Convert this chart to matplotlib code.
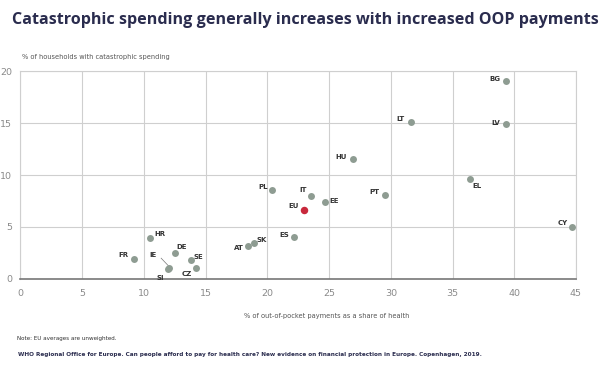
import matplotlib.pyplot as plt

# country codes and values
countries = ['FR', 'HR', 'DE', 'IE', 'SI', 'SE', 'CZ', 'AT', 'SK', 'ES', 'PL', 'IT',
             'EE', 'HU', 'PT', 'LT', 'BG', 'LV', 'EL', 'CY']
oop = [9.2, 10.5, 12.5, 12.05, 11.95, 13.8, 14.2, 18.4, 18.9, 22.2, 20.4, 23.5,
       24.7, 26.9, 29.5, 31.6, 39.3, 39.3, 36.4, 44.7]
cat = [1.9, 3.9, 2.5, 1.1, 1.0, 1.8, 1.1, 3.2, 3.5, 4.0, 8.6, 8.0,
       7.4, 11.5, 8.1, 15.1, 19.0, 14.9, 9.6, 5.0]
eu_oop = 23.0
eu_cat = 6.6

xticks = [0, 5, 10, 15, 20, 25, 30, 35, 40, 45]
yticks = [0, 5, 10, 15, 20]

# label offsets in points
offsets = {
    'FR': (-4, 3, 'right'), 'HR': (3, 3, 'left'), 'DE': (1, 4, 'left'),
    'IE': (-9, 9, 'right'), 'SI': (-3, -7, 'right'), 'SE': (2, 2, 'left'),
    'CZ': (-3, -5, 'right'), 'AT': (-3, -2, 'right'), 'SK': (2, 2, 'left'),
    'ES': (-4, 2, 'right'), 'PL': (-3, 2, 'right'), 'IT': (-3, 4, 'right'),
    'EE': (3, 1, 'left'), 'HU': (-4, 2, 'right'), 'PT': (-4, 2, 'right'),
    'LT': (-4, 2, 'right'), 'BG': (-4, 2, 'right'), 'LV': (-4, 1, 'right'),
    'EL': (2, -5, 'left'), 'CY': (-3, 3, 'right'),
}

navy = '#2a2c4e'
grey_pt = '#8e9c92'

fig = plt.figure(figsize=(6, 3.7), dpi=100)
ax = fig.add_axes([0.034, 0.246, 0.926, 0.562])

ax.scatter(oop, cat, s=25, color=grey_pt, zorder=3, linewidths=0)
ax.scatter([eu_oop], [eu_cat], s=29, color='#c8283c', zorder=4, linewidths=0)

for c, x, y in zip(countries, oop, cat):
    dx, dy, ha = offsets[c]
    ax.annotate(c, (x, y), xytext=(dx, dy), textcoords='offset points',
                ha=ha, va='center', fontsize=5, fontweight='bold',
                color='#333333')
ax.annotate('EU', (eu_oop, eu_cat), xytext=(-4, 3), textcoords='offset points',
            ha='right', va='center', fontsize=5, fontweight='bold',
            color='#333333')
# leader line for IE
ax.plot([11.4, 12.0], [2.0, 1.25], color='#777777', lw=0.5, zorder=2)

ax.set_xlim(0, 45)
ax.set_ylim(0, 20)
ax.set_xticks(xticks)
ax.set_yticks(yticks)
ax.grid(True, color='#cfcfcf', lw=0.8)
ax.set_axisbelow(True)
for s in ['top', 'right', 'left']:
    ax.spines[s].set_color('#cfcfcf')
    ax.spines[s].set_linewidth(0.8)
ax.spines['bottom'].set_color('#777777')
ax.spines['bottom'].set_linewidth(1.2)
ax.tick_params(length=0, labelsize=6.8, labelcolor='#8a8a8a')
ax.tick_params(axis='x', pad=7)
ax.tick_params(axis='y', pad=6)

fig.text(0.02, 0.946, 'Catastrophic spending generally increases with increased OOP payments',
         fontsize=11.6, fontweight='bold', color=navy, family='Open Sans', va='center')
fig.text(0.037, 0.846, '% of households with catastrophic spending',
         fontsize=4.8, color='#555555', va='center')
fig.text(0.545, 0.146, '% of out-of-pocket payments as a share of health',
         fontsize=4.8, color='#555555', va='center', ha='center')
fig.text(0.028, 0.086, 'Note: EU averages are unweighted.',
         fontsize=4.1, color='#333333', va='center')
fig.text(0.03, 0.043, 'WHO Regional Office for Europe. Can people afford to pay for health care? '
         'New evidence on financial protection in Europe. Copenhagen, 2019.',
         fontsize=4.15, color=navy, fontweight='bold', va='center')

fig.savefig('out.png', dpi=100)
